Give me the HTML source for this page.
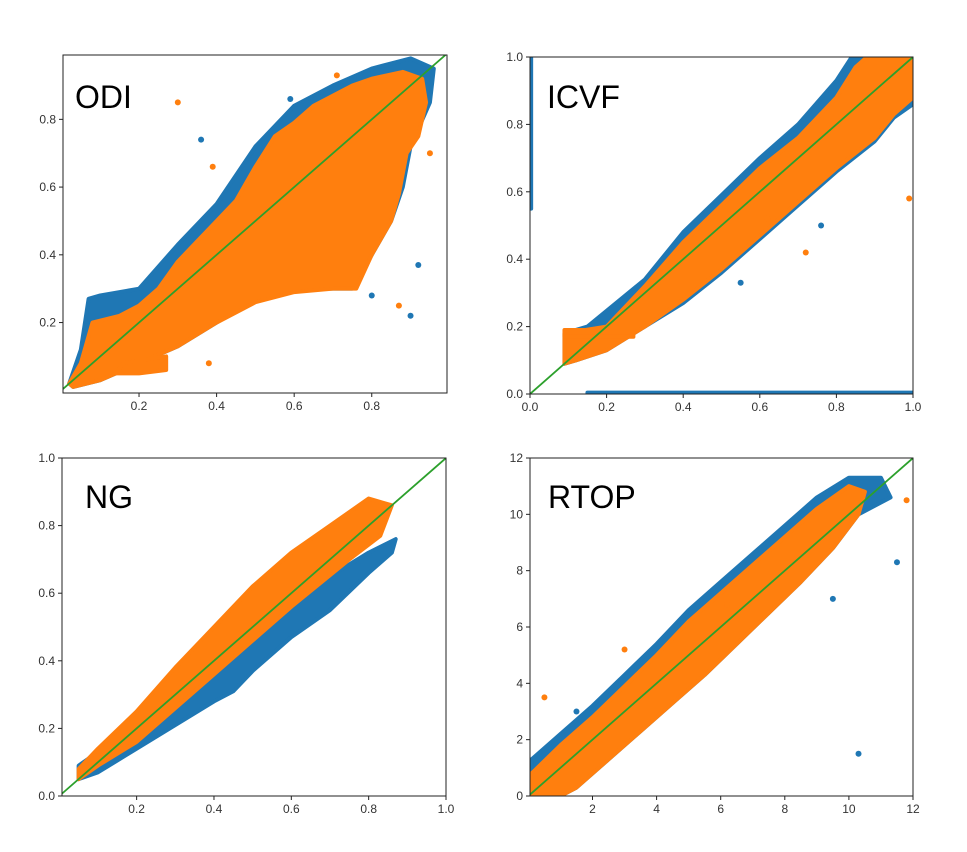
<!DOCTYPE html>
<html><head><meta charset="utf-8"><style>
body{margin:0;background:#fff;}
svg{display:block;font-family:"Liberation Sans",sans-serif;}
</style></head><body>
<svg id="chart" width="967" height="852" viewBox="0 0 967 852"></svg>
<script>
const NS="http://www.w3.org/2000/svg";
// ---- data ----
const panelNames=["ODI","ICVF","NG","RTOP"];
const odiXTicks=[0.2,0.4,0.6,0.8], odiYTicks=[0.2,0.4,0.6,0.8];
const icvfXTicks=[0,0.2,0.4,0.6,0.8,1.0], icvfYTicks=[0,0.2,0.4,0.6,0.8,1.0];
const ngXTicks=[0.2,0.4,0.6,0.8,1.0], ngYTicks=[0,0.2,0.4,0.6,0.8,1.0];
const rtopXTicks=[2,4,6,8,10,12], rtopYTicks=[0,2,4,6,8,10,12];
const odiBlue=[[0.02,0.02],[0.05,0.12],[0.07,0.27],[0.1,0.28],[0.2,0.3],[0.3,0.43],[0.4,0.55],[0.5,0.72],[0.6,0.84],[0.7,0.9],[0.8,0.95],[0.9,0.98],[0.96,0.95],[0.95,0.85],[0.9,0.72],[0.88,0.6],[0.85,0.5],[0.8,0.4],[0.75,0.3],[0.6,0.3],[0.5,0.27],[0.4,0.2],[0.3,0.13],[0.2,0.08],[0.1,0.03],[0.03,0.01]];
const odiOrange=[[0.02,0.02],[0.05,0.08],[0.08,0.2],[0.15,0.22],[0.2,0.25],[0.25,0.3],[0.3,0.38],[0.35,0.44],[0.4,0.5],[0.45,0.56],[0.5,0.66],[0.55,0.75],[0.6,0.79],[0.65,0.84],[0.7,0.87],[0.75,0.9],[0.8,0.92],[0.88,0.94],[0.93,0.92],[0.94,0.85],[0.92,0.75],[0.89,0.7],[0.87,0.58],[0.85,0.5],[0.8,0.4],[0.76,0.3],[0.7,0.3],[0.6,0.29],[0.5,0.26],[0.4,0.2],[0.3,0.13],[0.2,0.08],[0.1,0.03],[0.03,0.01]];
const odiOrangeBlob=[[0.14,0.05],[0.16,0.08],[0.27,0.1],[0.27,0.06],[0.2,0.05]];
const odiOutX=[0.3,0.36,0.39,0.59,0.71,0.8,0.95,0.92,0.87,0.9,0.38];
const odiOutY=[0.85,0.74,0.66,0.86,0.93,0.28,0.7,0.37,0.25,0.22,0.08];
const icvfBlue=[[0.09,0.09],[0.09,0.18],[0.15,0.2],[0.3,0.34],[0.4,0.48],[0.5,0.59],[0.6,0.7],[0.7,0.8],[0.8,0.93],[0.84,1.0],[1.0,1.0],[1.0,0.86],[0.95,0.82],[0.9,0.75],[0.8,0.66],[0.7,0.56],[0.6,0.46],[0.5,0.36],[0.4,0.27],[0.3,0.2],[0.2,0.13],[0.12,0.1]];
const icvfOrange=[[0.09,0.09],[0.09,0.18],[0.2,0.2],[0.3,0.32],[0.4,0.45],[0.5,0.56],[0.6,0.67],[0.7,0.76],[0.8,0.88],[0.85,0.97],[0.88,1.0],[1.0,1.0],[1.0,0.88],[0.95,0.83],[0.9,0.76],[0.8,0.67],[0.7,0.57],[0.6,0.47],[0.5,0.37],[0.4,0.28],[0.3,0.2],[0.2,0.13],[0.12,0.1]];
const icvfOrangeLine=[[0.09,0.17],[0.27,0.17],[0.27,0.19],[0.09,0.19]];
const icvfBlueLine=[[0.15,0.0],[1.0,0.0],[1.0,0.004],[0.15,0.004]];
const icvfBlueAxis=[[0.0,0.55],[0.003,0.55],[0.003,1.0],[0.0,1.0]];
const icvfOutX=[0.72,0.76,0.99,0.55,0.62];
const icvfOutY=[0.42,0.5,0.58,0.33,0.52];
const ngBlue=[[0.05,0.05],[0.05,0.09],[0.1,0.13],[0.2,0.22],[0.3,0.33],[0.4,0.42],[0.5,0.5],[0.6,0.6],[0.7,0.65],[0.8,0.72],[0.87,0.76],[0.86,0.72],[0.8,0.66],[0.7,0.55],[0.6,0.47],[0.5,0.37],[0.45,0.31],[0.4,0.28],[0.3,0.21],[0.2,0.14],[0.1,0.07]];
const ngOrange=[[0.05,0.05],[0.05,0.08],[0.1,0.14],[0.2,0.25],[0.3,0.38],[0.4,0.5],[0.5,0.62],[0.6,0.72],[0.7,0.8],[0.8,0.88],[0.86,0.86],[0.83,0.77],[0.75,0.7],[0.6,0.56],[0.5,0.46],[0.4,0.36],[0.3,0.26],[0.2,0.16],[0.1,0.09]];
const rtopBlue=[[0.1,0],[0.1,1.3],[1,2.2],[2,3.2],[3,4.3],[4,5.4],[5,6.6],[6,7.6],[7,8.6],[8,9.6],[9,10.6],[10,11.3],[11,11.3],[11.3,10.6],[10.3,10],[9.5,8.8],[8.5,7.6],[7.5,6.5],[6.5,5.4],[5.5,4.3],[4.5,3.3],[3.5,2.3],[2.5,1.3],[1.5,0.3],[1,0]];
const rtopOrange=[[0.1,0],[0.1,0.8],[1,1.8],[2,2.8],[3,3.9],[4,5],[5,6.2],[6,7.2],[7,8.2],[8,9.2],[9,10.2],[10,11],[10.5,10.8],[10.3,10],[9.5,8.8],[8.5,7.6],[7.5,6.5],[6.5,5.4],[5.5,4.3],[4.5,3.3],[3.5,2.3],[2.5,1.3],[1.5,0.3],[1,0]];
const rtopOutX=[3,10.3,0.5,1.5,11.8,11.5,6.2,9.5];
const rtopOutY=[5.2,1.5,3.5,3,10.5,8.3,6.8,7];
// ---- panels ----
const panels=[
 {name:"ODI",x0:63,x1:447,y0:55,y1:393,dx:[0.004,0.994],dy:[-0.008,0.99],xt:odiXTicks,yt:odiYTicks,fmt:v=>v.toFixed(1),blue:[odiBlue],orange:[odiOrange,odiOrangeBlob],ox:odiOutX,oy:odiOutY,tx:75,ty:108},
 {name:"ICVF",x0:530,x1:913,y0:57,y1:394,dx:[0,1],dy:[0,1],xt:icvfXTicks,yt:icvfYTicks,fmt:v=>v.toFixed(1),blue:[icvfBlue,icvfBlueLine,icvfBlueAxis],orange:[icvfOrange,icvfOrangeLine],ox:icvfOutX,oy:icvfOutY,tx:547,ty:108},
 {name:"NG",x0:62,x1:446,y0:458,y1:796,dx:[0.007,1],dy:[0,1],xt:ngXTicks,yt:ngYTicks,fmt:v=>v.toFixed(1),blue:[ngBlue],orange:[ngOrange],ox:[],oy:[],tx:85,ty:508},
 {name:"RTOP",x0:530,x1:913,y0:458,y1:796,dx:[0.05,12],dy:[0,12],xt:rtopXTicks,yt:rtopYTicks,fmt:v=>String(v),blue:[rtopBlue],orange:[rtopOrange],ox:rtopOutX,oy:rtopOutY,tx:548,ty:508}
];
const svg=document.getElementById('chart');
function mk(t,a,p){const e=document.createElementNS(NS,t);for(const k in a)e.setAttribute(k,a[k]);(p||svg).appendChild(e);return e;}
panels.forEach(P=>{
 const key=P.name.toLowerCase();
 const g=mk('g',{});
 
 
 const sx=v=>P.x0+(v-P.dx[0])/(P.dx[1]-P.dx[0])*(P.x1-P.x0);
 const sy=v=>P.y1-(v-P.dy[0])/(P.dy[1]-P.dy[0])*(P.y1-P.y0);
 const cid='clip-'+key;
 const cp=mk('clipPath',{id:cid},g);mk('rect',{x:P.x0,y:P.y0,width:P.x1-P.x0,height:P.y1-P.y0},cp);
 const dg=mk('g',{'clip-path':'url(#'+cid+')'},g);
 const poly=(pts,col,name)=>{const e=mk('polygon',{points:pts.map(p=>sx(p[0])+','+sy(p[1])).join(' '),fill:col,stroke:col,'stroke-width':4,'stroke-linejoin':'round'},dg);
  
  };
 P.blue.forEach((b,i)=>poly(b,'#1f77b4',key+'-blue-cloud-'+i));
 P.orange.forEach((b,i)=>poly(b,'#ff7f0e',key+'-orange-cloud-'+i));
 P.ox.forEach((x,i)=>{const c=mk('circle',{cx:sx(x),cy:sy(P.oy[i]),r:3,fill:i%2?'#1f77b4':'#ff7f0e'},dg);
  
  });
 const hi=Math.min(P.dx[1],P.dy[1]);
 const ln=mk('line',{x1:sx(P.dx[0]),y1:sy(P.dx[0]),x2:sx(hi),y2:sy(hi),stroke:'#2ca02c','stroke-width':1.8},dg);
 
 
 const fr=mk('rect',{x:P.x0,y:P.y0,width:P.x1-P.x0,height:P.y1-P.y0,fill:'none',stroke:'#222','stroke-width':1},g);
 
 
 P.xt.forEach(v=>{const x=sx(v);mk('line',{x1:x,y1:P.y1,x2:x,y2:P.y1+4,stroke:'#222'},g);
  const t=mk('text',{x:x,y:P.y1+17,'font-size':12,'text-anchor':'middle',fill:'#333'},g);t.textContent=P.fmt(v);
  
  });
 P.yt.forEach(v=>{const y=sy(v);mk('line',{x1:P.x0-4,y1:y,x2:P.x0,y2:y,stroke:'#222'},g);
  const t=mk('text',{x:P.x0-7,y:y+4,'font-size':12,'text-anchor':'end',fill:'#333'},g);t.textContent=P.fmt(v);
  
  });
 const tt=mk('text',{x:P.tx,y:P.ty,'font-size':32,fill:'#000'},g);tt.textContent=P.name;
 
 
});
</script>
</body></html>
